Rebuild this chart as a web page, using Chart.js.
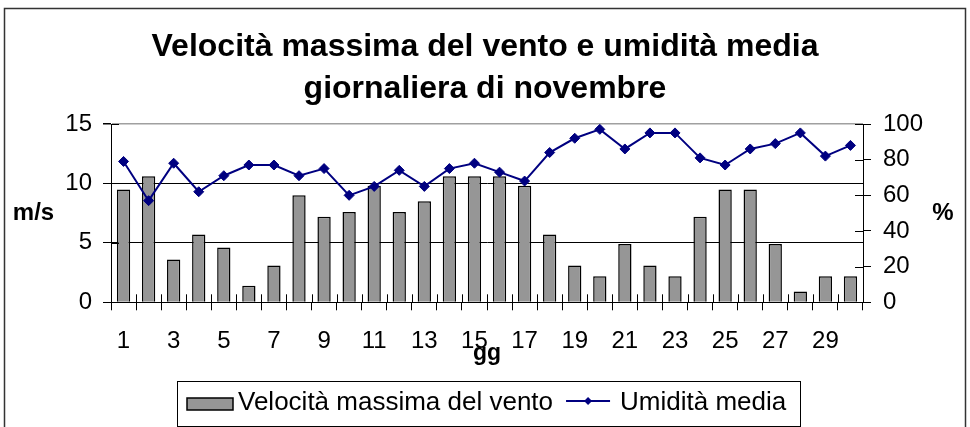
<!DOCTYPE html>
<html><head><meta charset="utf-8">
<script src="https://cdn.jsdelivr.net/npm/chart.js@4.4.1/dist/chart.umd.min.js"></script>
<style>html,body{margin:0;padding:0;background:#fff;}canvas{display:block;}</style>
</head><body>
<canvas id="c" width="970" height="427"></canvas>
<script>
const days = ['1','2','3','4','5','6','7','8','9','10','11','12','13','14','15','16','17','18','19','20','21','22','23','24','25','26','27','28','29','30'];
const windMax = [9.5,10.6,3.6,5.7,4.6,1.4,3.1,9.0,7.2,7.6,9.8,7.6,8.5,10.6,10.6,10.6,9.8,5.7,3.1,2.2,4.9,3.1,2.2,7.2,9.5,9.5,4.9,0.9,2.2,2.2];
const humidity = [79,57,78,62,71,77,77,71,75,60,65,74,65,75,78,73,68,84,92,97,86,95,95,81,77,86,89,95,82,88];
const windTicks = [0,5,10,15];
const humTicks = [0,20,40,60,80,100];
const titleLines = ['Velocità massima del vento e umidità media','giornaliera di novembre'];
const seriesNames = ['Velocità massima del vento','Umidità media'];
const xTitle = 'gg';
const yTitle = 'm/s';
const y1Title = '%';

const FONT = '"Liberation Sans", Arial, sans-serif';
Chart.defaults.font.family = FONT;
Chart.defaults.color = '#000';

const decor = {
  id: 'decor',
  beforeDraw(chart) {
    const ctx = chart.ctx;
    ctx.save();
    ctx.fillStyle = '#fff';
    ctx.fillRect(0, 0, chart.width, chart.height);
    ctx.strokeStyle = '#333';
    ctx.lineWidth = 1.5;
    ctx.strokeRect(4.5, 8.5, 961, 440);
    ctx.restore();
  },
  afterDatasetsDraw(chart) {
    const ctx = chart.ctx;
    const {x, y, y1} = chart.scales;
    ctx.save();
    ctx.strokeStyle = '#000';
    ctx.lineWidth = 1;
    ctx.beginPath();
    for (let i = 0; i <= days.length; i++) {
      const px = Math.round(x.getPixelForValue(i - 0.5)) + 0.5;
      ctx.moveTo(px, y.bottom - 8); ctx.lineTo(px, y.bottom);
    }
    windTicks.forEach(v => {
      const py = Math.round(y.getPixelForValue(v)) + 0.5;
      ctx.moveTo(y.right, py); ctx.lineTo(y.right + 8, py);
    });
    humTicks.forEach(v => {
      const py = Math.round(y1.getPixelForValue(v)) + 0.5;
      ctx.moveTo(y1.left - 8, py); ctx.lineTo(y1.left, py);
    });
    ctx.stroke();
    ctx.restore();
  },
  afterDraw(chart) {
    const ctx = chart.ctx;
    const area = chart.chartArea;
    ctx.save();
    ctx.fillStyle = '#000';
    ctx.textBaseline = 'alphabetic';
    ctx.font = 'bold 24px ' + FONT;
    ctx.textAlign = 'center';
    ctx.fillText(yTitle, 33.5, 220);
    ctx.fillText(y1Title, 943, 220);
    ctx.font = 'bold 23px ' + FONT;
    ctx.fillText(xTitle, (area.left + area.right) / 2, 360);

    // legend
    const dsBar = chart.data.datasets.find(d => d.type === 'bar');
    const dsLine = chart.data.datasets.find(d => d.type === 'line');
    ctx.font = '26px ' + FONT;
    ctx.textAlign = 'left';
    const boxL = 177.5, boxT = 381.5, boxR = 800.5, boxB = 426.5;
    ctx.strokeStyle = '#000';
    ctx.lineWidth = 1;
    ctx.strokeRect(boxL, boxT, boxR - boxL, boxB - boxT);
    const midY = 401;
    ctx.fillStyle = dsBar.backgroundColor;
    ctx.fillRect(187, 398, 46, 12);
    ctx.strokeStyle = dsBar.borderColor;
    ctx.lineWidth = 1.5;
    ctx.strokeRect(187, 398, 46, 12);
    ctx.fillStyle = '#000';
    ctx.fillText(dsBar.label, 238, 410);
    const w1 = ctx.measureText(dsBar.label).width;
    const lx = 238 + w1 + 13;
    const lineLen = 44;
    ctx.strokeStyle = dsLine.borderColor;
    ctx.lineWidth = 2;
    ctx.beginPath();
    ctx.moveTo(lx, midY); ctx.lineTo(lx + lineLen, midY);
    ctx.stroke();
    ctx.fillStyle = dsLine.pointBackgroundColor;
    const cx = lx + lineLen / 2, cy = midY, r = 4;
    ctx.beginPath();
    ctx.moveTo(cx - r, cy); ctx.lineTo(cx, cy - r); ctx.lineTo(cx + r, cy); ctx.lineTo(cx, cy + r); ctx.closePath();
    ctx.fill();
    ctx.fillStyle = '#000';
    ctx.fillText(dsLine.label, lx + lineLen + 10, 410);
    ctx.restore();
  }
};

new Chart(document.getElementById('c'), {
  type: 'bar',
  data: {
    labels: days,
    datasets: [
      {
        type: 'line',
        label: seriesNames[1],
        data: humidity,
        yAxisID: 'y1',
        borderColor: '#000080',
        backgroundColor: '#000080',
        pointBackgroundColor: '#000080',
        pointBorderColor: '#000080',
        borderWidth: 2,
        pointStyle: 'rectRot',
        pointRadius: 5,
        pointBorderWidth: 1,
        tension: 0,
        fill: false,
        order: 0
      },
      {
        type: 'bar',
        label: seriesNames[0],
        data: windMax,
        yAxisID: 'y',
        backgroundColor: '#969696',
        borderColor: '#000',
        borderWidth: 1.5,
        barPercentage: 0.53,
        categoryPercentage: 1,
        order: 1
      }
    ]
  },
  options: {
    responsive: false,
    animation: false,
    devicePixelRatio: 1,
    layout: {padding: {left: 0, right: 0, top: 0, bottom: 0}},
    plugins: {
      legend: {display: false},
      tooltip: {enabled: false},
      title: {
        display: true,
        text: titleLines,
        color: '#000',
        font: {family: FONT, size: 32, weight: 'bold', lineHeight: '42px'},
        padding: {top: 26, bottom: 14}
      }
    },
    scales: {
      x: {
        type: 'category',
        offset: true,
        grid: {offset: true, drawOnChartArea: false, color: '#000', tickLength: 8, lineWidth: 1},
        border: {color: '#000', width: 1},
        ticks: {
          autoSkip: false, maxRotation: 0, minRotation: 0, padding: 17,
          font: {family: FONT, size: 24},
          color: '#000',
          callback: function(value, index) { return index % 2 === 0 ? this.getLabelForValue(value) : ''; }
        },
        afterFit: s => { s.height = 124.7; }
      },
      y: {
        position: 'left',
        min: 0, max: 15,
        afterBuildTicks: s => { s.ticks = windTicks.map(v => ({value: v})); },
        grid: {
          color: c => (c.tick && c.tick.value === 15) ? '#a0a0a0' : '#000',
          lineWidth: c => (c.tick && c.tick.value === 15) ? 1.5 : 1,
          tickColor: '#000', tickLength: 8
        },
        border: {color: '#000', width: 1},
        ticks: {padding: 11, font: {family: FONT, size: 24}, color: '#000'},
        afterFit: s => { s.width = 111; }
      },
      y1: {
        position: 'right',
        min: 0, max: 100,
        afterBuildTicks: s => { s.ticks = humTicks.map(v => ({value: v})); },
        grid: {drawOnChartArea: false, color: '#000', tickLength: 8},
        border: {color: '#000', width: 1},
        ticks: {padding: 12, font: {family: FONT, size: 24}, color: '#000'},
        afterFit: s => { s.width = 107; }
      }
    }
  },
  plugins: [decor]
});
</script>
</body></html>
